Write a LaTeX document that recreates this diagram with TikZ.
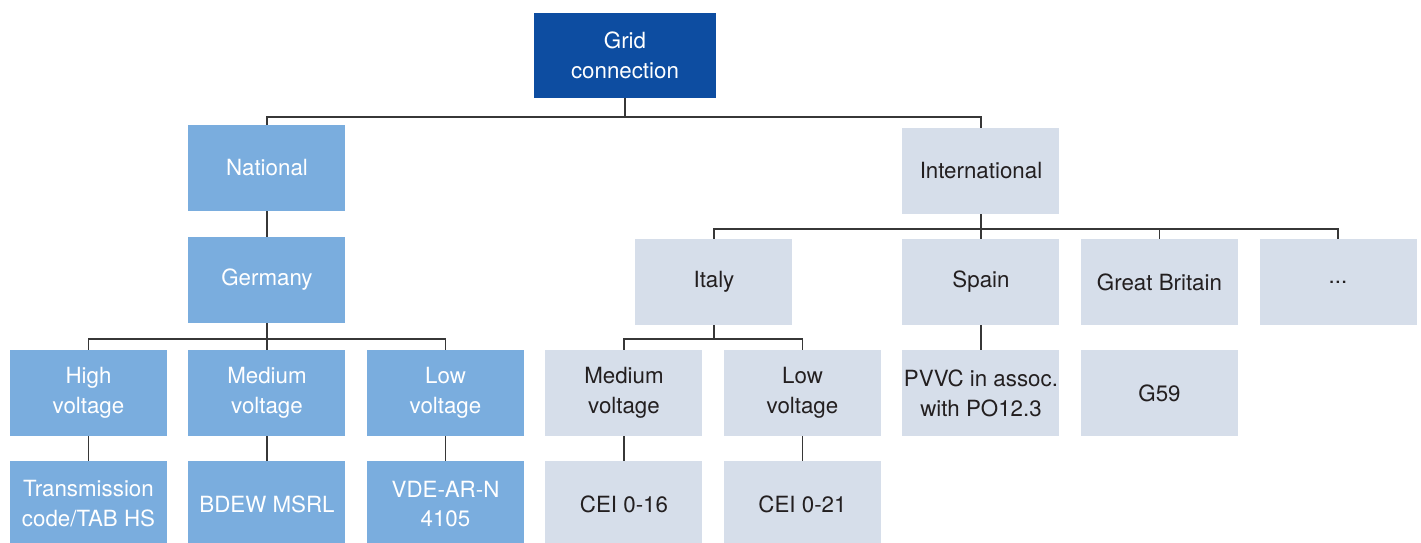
\documentclass[tikz,border=0pt]{standalone}
\usepackage{fontspec}
\setmainfont{TeX Gyre Heros}
\usepackage{xcolor}
\usepackage{tikz}
\usetikzlibrary{positioning,calc}

\definecolor{gridblue}{RGB}{13,77,161}
\definecolor{natblue}{RGB}{122,173,222}
\definecolor{intgrey}{RGB}{214,222,234}
\definecolor{linegrey}{RGB}{55,55,55}
\definecolor{textdark}{RGB}{35,31,32}

\begin{document}
\begin{tikzpicture}[
        node distance=0.43cm,
        box/.style={rectangle,inner sep=0pt,outer sep=0pt,minimum width=3.14cm,minimum height=1.72cm,align=center,font=\fontsize{12.7}{17}\selectfont},
        gridbox/.style={box,fill=gridblue,text=white,minimum width=3.64cm,minimum height=1.7cm},
        natbox/.style={box,fill=natblue,text=white},
        intbox/.style={box,fill=intgrey,text=textdark},
        conn/.style={draw=linegrey,line width=1pt},
    ]
    \useasboundingbox (-12.5,1.11) rectangle (15.92,-9.73);

    % === TOP ===
    \node[gridbox] (grid) at (0,0) {Grid\\connection};

    % === LEFT: National / Germany ===
    \node[natbox] (hv) at (-10.73,-6.75) {High\\voltage};
    \node[natbox,right=of hv] (mvde) {Medium\\voltage};
    \node[natbox,right=of mvde] (lvde) {Low\\voltage};
    \node[natbox,below=0.5cm of hv] (trans) {Transmission\\code/TAB HS};
    \node[natbox,below=0.5cm of mvde] (bdew) {BDEW MSRL};
    \node[natbox,below=0.5cm of lvde] (vde) {VDE-AR-N\\4105};
    \node[natbox,above=0.54cm of mvde] (germany) {Germany};
    \node[natbox,above=0.52cm of germany] (national) {National};

    % === RIGHT: International ===
    \node[intbox,right=of lvde] (mvit) {Medium\\voltage};
    \node[intbox,right=of mvit] (lvit) {Low\\voltage};
    \node[intbox,right=of lvit] (pvvc) {PVVC in assoc.\\with PO12.3};
    \node[intbox,right=of pvvc] (g59) {G59};
    \node[intbox,below=0.5cm of mvit] (cei16) {CEI 0-16};
    \node[intbox,below=0.5cm of lvit] (cei21) {CEI 0-21};
    \node[intbox,above=0.5cm of pvvc] (spain) {Spain};
    \node[intbox,right=of spain] (gb) {Great Britain};
    \node[intbox,right=of gb] (more) {...};
    \node[intbox,left=2.2cm of spain] (italy) {Italy};
    \node[intbox,above=0.5cm of spain] (intl) {International};

    % connectors
    \draw[conn] (grid.south) -- ++(0,-0.38) -| (national.north); \draw[conn] (grid.south) -- ++(0,-0.38) -| (intl.north);
    \draw[conn] (national) -- (germany);
    \draw[conn] (germany.south) -- ++(0,-0.32) -| (hv.north); \draw[conn] (germany.south) -- (mvde.north); \draw[conn] (germany.south) -- ++(0,-0.32) -| (lvde.north);
    \draw[conn] (hv) -- (trans); \draw[conn] (mvde) -- (bdew); \draw[conn] (lvde) -- (vde);
    \draw[conn] (intl.south) -- ++(0,-0.3) -| (italy.north); \draw[conn] (intl.south) -- (spain.north);
    \draw[conn] (intl.south) -- ++(0,-0.3) -| (gb.north); \draw[conn] (intl.south) -- ++(0,-0.3) -| (more.north);
    \draw[conn] (italy.south) -- ++(0,-0.28) -| (mvit.north); \draw[conn] (italy.south) -- ++(0,-0.28) -| (lvit.north);
    \draw[conn] (mvit) -- (cei16); \draw[conn] (lvit) -- (cei21);
    \draw[conn] (spain) -- (pvvc);
\end{tikzpicture}
\end{document}
